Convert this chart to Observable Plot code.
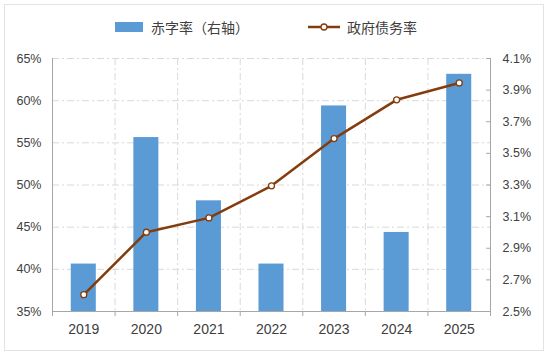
<!DOCTYPE html>
<html>
<head>
<meta charset="utf-8">
<script src="https://cdn.jsdelivr.net/npm/d3@7"></script>
<script src="https://cdn.jsdelivr.net/npm/@observablehq/plot@0.6"></script>
<style>
  body { margin: 0; background: #fff; }
  #frame { position: relative; width: 550px; height: 356px; overflow: hidden; font-family: "Liberation Sans", Arial, sans-serif; }
  #border { position: absolute; left: 4px; top: 4px; width: 540px; height: 347px; border: 1px solid #e3e3e3; box-sizing: border-box; }
  #legend { position: absolute; left: 0; top: 14px; width: 550px; height: 26px; font-family: "Noto Sans CJK SC", sans-serif; font-size: 14px; color: #404040; }
  .item { position: absolute; top: 0; display: flex; align-items: center; height: 26px; }
  #chart { position: absolute; left: 0; top: 40px; }
</style>
</head>
<body>
<div id="frame">
  <div id="border"></div>
  <div id="legend"></div>
  <div id="chart"></div>
</div>
<script>
const years = ["2019", "2020", "2021", "2022", "2023", "2024", "2025"];
const deficitRate = [2.8, 3.6, 3.2, 2.8, 3.8, 3.0, 4.0];      // 赤字率（右轴）
const debtRate = [37.0, 44.4, 46.1, 49.9, 55.5, 60.1, 62.1];  // 政府债务率
const leftTicks = [35, 40, 45, 50, 55, 60, 65];
const rightTicks = [2.5, 2.7, 2.9, 3.1, 3.3, 3.5, 3.7, 3.9, 4.1];
const seriesNames = ["赤字率（右轴）", "政府债务率"];

const barColor = "#5B9BD5";
const lineColor = "#843C0C";
const gridColor = "#d9d9d9";
const axisColor = "#a6a6a6";

// map right-axis values onto the left scale domain
const L0 = 35, L1 = 65, R0 = 2.5, R1 = 4.1;
const toLeft = v => L0 + (v - R0) / (R1 - R0) * (L1 - L0);

const data = years.map((y, i) => ({ i, year: y, deficit: deficitRate[i], debt: debtRate[i] }));
const bounds = d3.range(0, years.length + 1);
const inner = d3.range(1, years.length);

const tickShape = { draw(context, l) { context.moveTo(0, 0); context.lineTo(0, -l); } };

const plot = Plot.plot({
  width: 550,
  height: 316,
  marginLeft: 52,
  marginRight: 60,
  marginTop: 18,
  marginBottom: 45,
  style: { fontFamily: "Liberation Sans, Arial, sans-serif", fontSize: "12px", color: "#404040", background: "transparent" },
  x: { type: "linear", domain: [0, years.length] },
  y: { type: "linear", domain: [L0, L1] },
  marks: [
    Plot.ruleY(leftTicks.slice(1), { stroke: gridColor, strokeDasharray: "7,3,2,3" }),
    Plot.ruleX(inner, { stroke: gridColor, strokeDasharray: "7,3,2,3" }),
    Plot.rectY(data, { x1: d => d.i + 0.3, x2: d => d.i + 0.7, y1: L0, y2: d => toLeft(d.deficit), fill: barColor }),
    Plot.line(data, { x: d => d.i + 0.5, y: "debt", stroke: lineColor, strokeWidth: 2.5 }),
    Plot.dot(data, { x: d => d.i + 0.5, y: "debt", r: 3, fill: "white", stroke: lineColor, strokeWidth: 1.3 }),
    Plot.ruleX([0, years.length], { stroke: axisColor, strokeWidth: 1 }),
    Plot.ruleY([L0], { stroke: axisColor, strokeWidth: 1 }),
    Plot.vector(rightTicks.map(toLeft), { y: d => d, frameAnchor: "right", length: 4, rotate: -90, anchor: "start", shape: tickShape, stroke: axisColor, strokeWidth: 1 }),
    Plot.axisY(leftTicks, { anchor: "left", tickSize: 0, tickPadding: 11, tickFormat: d => d + "%", label: null, fill: "#404040", fontSize: 12.5 }),
    Plot.axisY(rightTicks.map(toLeft), { anchor: "right", tickSize: 0, tickPadding: 12, tickFormat: (d, k) => rightTicks[k].toFixed(1) + "%", label: null, fill: "#404040", fontSize: 12.5 }),
    Plot.axisX(data.map(d => d.i + 0.5), { anchor: "bottom", tickSize: 0, tickPadding: 13, tickFormat: (d, k) => years[k], label: null, fill: "#404040", fontSize: 14 }),
    Plot.axisX(bounds, { anchor: "bottom", tickSize: 5, tickFormat: null, text: null, stroke: axisColor, label: null })
  ]
});
document.getElementById("chart").appendChild(plot);

// legend
const legend = document.getElementById("legend");
legend.innerHTML = `
  <div class="item" style="left:115px">
    <svg width="28" height="12" style="margin-right:8px"><rect x="0" y="1" width="28" height="10" fill="${barColor}"></rect></svg>
    <span>${seriesNames[0]}</span>
  </div>
  <div class="item" style="left:308px">
    <svg width="32" height="12" style="margin-right:7px"><line x1="0" y1="6" x2="32" y2="6" stroke="${lineColor}" stroke-width="2.5"></line><circle cx="16" cy="6" r="3" fill="white" stroke="${lineColor}" stroke-width="1.3"></circle></svg>
    <span>${seriesNames[1]}</span>
  </div>`;
</script>
</body>
</html>
